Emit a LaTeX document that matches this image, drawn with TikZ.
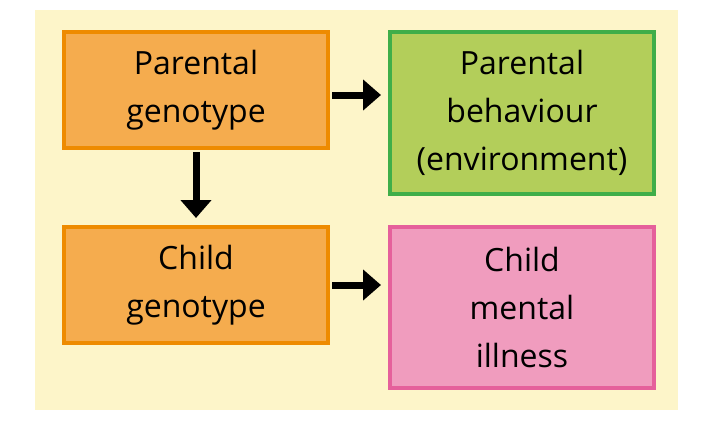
\documentclass[tikz,border=0pt]{standalone}
\usepackage{fontspec}
\setmainfont{Open Sans}
\usetikzlibrary{arrows.meta}
\definecolor{bgy}{HTML}{FDF5C9}
\definecolor{orf}{HTML}{F5AC4E}
\definecolor{ord}{HTML}{EE8B00}
\definecolor{grf}{HTML}{B3CE5A}
\definecolor{grd}{HTML}{3FAE49}
\definecolor{pkf}{HTML}{F09CBE}
\definecolor{pkd}{HTML}{E5609B}
\begin{document}
\begin{tikzpicture}[x=1pt,y=-1pt,
 box/.style={draw,line width=4pt,minimum width=264pt,align=center,font=\fontsize{32}{48}\selectfont,inner sep=0pt},
 arr/.style={line width=7pt,-{Triangle[length=18pt,width=30pt]}}]
\useasboundingbox (0,0) rectangle (721,421);
\fill[white] (0,0) rectangle (721,421);
\fill[bgy] (35,10) rectangle (678,410);
\node[box,fill=orf,draw=ord,minimum height=116pt] (pg) at (196,90) {Parental\\genotype};
\node[box,fill=grf,draw=grd,minimum height=162pt] (pb) at (522,113) {Parental\\behaviour\\(environment)};
\node[box,fill=orf,draw=ord,minimum height=116pt] (cg) at (196,285) {Child\\genotype};
\node[box,fill=pkf,draw=pkd,minimum height=161pt] (cm) at (522,307) {Child\\mental\\illness};
\draw[arr] (pg.east|-0,95) ++(2,0) -- (381,95);
\draw[arr] (pg.south) ++(0,2) -- (196,218);
\draw[arr] (cg.east) ++(2,0) -- (381,285);
\end{tikzpicture}
\end{document}
